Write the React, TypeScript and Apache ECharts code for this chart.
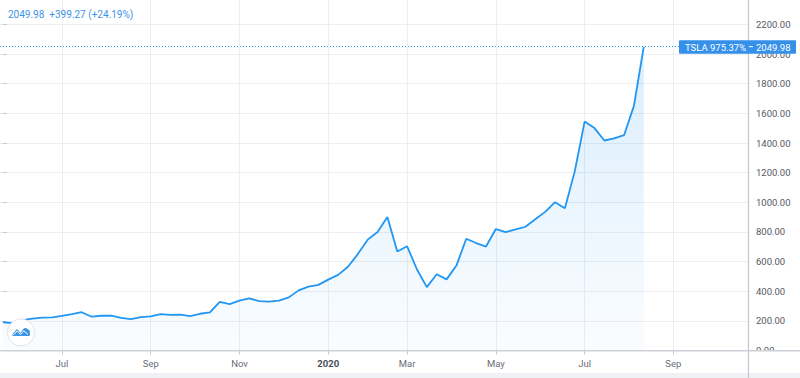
import React, { useEffect, useRef } from 'react';
import * as echarts from 'echarts';

// Weekly closes of TSLA, first bar = week of 2019-05-20
const startWeek = '2019-05-20';
const weeklyClose = [
  190.63, 185.16, 204.5, 214.92, 221.86, 223.46, 233.1, 245.44, 258.18, 228.04,
  234.34, 235.01, 219.94, 211.4, 225.61, 229.58, 245.2, 240.62, 242.13, 231.43,
  247.89, 256.95, 328.13, 313.31, 337.14, 352.17, 333.04, 329.94, 335.89, 358.39,
  405.59, 430.38, 443.01, 478.15, 510.5, 564.82, 650.57, 748.07, 800.03, 901.0,
  667.99, 703.48, 546.62, 427.53, 514.36, 480.01, 573.0, 753.89, 725.15, 701.32,
  819.42, 799.17, 816.88, 835.0, 885.66, 935.28, 1000.9, 959.74, 1208.66, 1544.65,
  1500.64, 1417.0, 1430.76, 1452.71, 1650.71, 2049.98,
];
const tickWeeks = ['2019-07-01', '2019-09-02', '2019-11-04', '2020-01-06', '2020-03-02', '2020-05-04', '2020-07-06', '2020-09-07'];
const tickLabels = ['Jul', 'Sep', 'Nov', '2020', 'Mar', 'May', 'Jul', 'Sep'];
const yTicks = [0, 200, 400, 600, 800, 1000, 1200, 1400, 1600, 1800, 2000, 2200];
const symbol = 'TSLA';

const FONT = 'Roboto, "Noto Sans", sans-serif';
const BLUE = '#2196f3';

const WEEK = 7 * 86400000;
const weekIndex = (d: string) => Math.round((Date.parse(d) - Date.parse(startWeek)) / WEEK);
const tickIdx = tickWeeks.map(weekIndex);
const labelByIdx: Record<number, string> = {};
tickIdx.forEach((v, i) => (labelByIdx[v] = tickLabels[i]));

let registered = false;
function registerLogo() {
  if (registered) return;
  registered = true;
  const d =
    'M0.5 9 C0 9 0 7.5 0.3 6.8 L4.8 1.6 L8.3 5.6 L11.2 1.6 C12.4 0 14.6 0 15.6 1.8 C17.3 2 18 3.4 18 5 L18 7.6 C18 8.5 17.4 9 16.6 9 Z';
  echarts.graphic.registerShape('tvlogo', echarts.graphic.extendPath(d, {}) as any);
}

export default function App() {
  const ref = useRef<HTMLDivElement>(null);
  useEffect(() => {
    document.body.style.margin = '0';
    registerLogo();
    const chart = echarts.init(ref.current!, undefined, { renderer: 'svg' });
    const n = weeklyClose.length;
    const last = weeklyClose[n - 1];
    const prev = weeklyClose[n - 2];
    const first = weeklyClose[0];
    const header = `${last.toFixed(2)}  +${(last - prev).toFixed(2)} (+${((last / prev - 1) * 100).toFixed(2)}%)`;
    const pct = `${symbol} ${((last / first - 1) * 100).toFixed(2)}%`;

    chart.setOption({
      animation: false,
      backgroundColor: '#ffffff',
      grid: { left: 0, right: 52, top: 0, bottom: 27.5 },
      xAxis: {
        type: 'value',
        min: -0.288,
        max: 75.57,
        axisLine: { show: false },
        axisTick: { show: true, length: 4, customValues: tickIdx, lineStyle: { color: '#c5c8ce' } },
        axisLabel: {
          customValues: tickIdx,
          margin: 8,
          color: '#6a6d78',
          fontSize: 9.5,
          fontFamily: FONT,
          formatter: (v: number) => {
            const t = labelByIdx[Math.round(v)] || '';
            return /^\d{4}$/.test(t) ? `{y|${t}}` : t;
          },
          rich: { y: { fontWeight: 'bold', color: '#4a4d57', fontSize: 9.5, fontFamily: FONT } },
        },
        splitLine: { show: true, lineStyle: { color: '#eceef2', width: 1 } },
      },
      yAxis: {
        type: 'value',
        position: 'right',
        min: 0,
        max: 2365,
        interval: 200,
        axisLine: { show: false },
        axisTick: { show: true, length: 4, customValues: yTicks, lineStyle: { color: '#c5c8ce' } },
        axisLabel: {
          customValues: yTicks,
          margin: 8,
          color: '#555863',
          fontSize: 9.5,
          fontFamily: FONT,
          formatter: (v: number) => v.toFixed(2),
        },
        splitLine: { show: true, lineStyle: { color: '#eceef2', width: 1 } },
      },
      series: [
        {
          type: 'line',
          data: weeklyClose.map((v, i) => [i, v]),
          showSymbol: false,
          symbol: 'none',
          lineStyle: { color: BLUE, width: 1.8 },
          areaStyle: {
            color: new echarts.graphic.LinearGradient(0, 0, 0, 1, [
              { offset: 0, color: 'rgba(33,150,243,0.24)' },
              { offset: 1, color: 'rgba(33,150,243,0.03)' },
            ]),
          },
          markLine: {
            silent: true,
            symbol: ['none', 'none'],
            label: { show: false },
            lineStyle: { type: [1, 2], color: BLUE, width: 1 },
            data: [{ yAxis: last }],
          },
        },
      ],
    });

    const py = chart.convertToPixel({ yAxisIndex: 0 }, last) as number;

    chart.setOption({
      graphic: [
        // bottom clipping of price scale & separators
        { type: 'rect', z: 100, shape: { x: 749, y: 351, width: 51, height: 22 }, style: { fill: '#ffffff' } },
        { type: 'rect', z: 100, shape: { x: 0, y: 373, width: 800, height: 5 }, style: { fill: '#f0f1f4' } },
        { type: 'line', z: 101, shape: { x1: 0, y1: 350.75, x2: 800, y2: 350.75 }, style: { stroke: '#cdd0d6', lineWidth: 1.5 } },
        { type: 'line', z: 101, shape: { x1: 748.5, y1: 0, x2: 748.5, y2: 378 }, style: { stroke: '#c5c8ce', lineWidth: 1.2 } },
        // header
        {
          type: 'text', z: 101, x: 8, y: 14.5,
          style: { text: header, fill: '#3d93e8', fontSize: 10, fontFamily: FONT, verticalAlign: 'middle' },
        },
        // price label
        { type: 'rect', z: 102, shape: { x: 679, y: py - 6.5, width: 117, height: 13.5, r: 1 }, style: { fill: '#3590ea' } },
        { type: 'line', z: 103, shape: { x1: 749, y1: py, x2: 753, y2: py }, style: { stroke: '#ffffff', lineWidth: 1 } },
        {
          type: 'text', z: 103, x: 685, y: py + 0.5,
          style: { text: pct, fill: '#ffffff', fontSize: 9.5, fontFamily: FONT, verticalAlign: 'middle' },
        },
        {
          type: 'text', z: 103, x: 756, y: py + 0.5,
          style: { text: last.toFixed(2), fill: '#ffffff', fontSize: 9.5, fontFamily: FONT, verticalAlign: 'middle' },
        },
        // logo
        { type: 'circle', z: 104, shape: { cx: 21, cy: 332.5, r: 13.5 }, style: { fill: '#ffffff', stroke: '#e0e3eb', lineWidth: 1 } },
        { type: 'tvlogo', z: 105, x: 12.3, y: 327.6, scaleX: 0.98, scaleY: 0.93, style: { fill: '#3d95e6' } },
        {
          type: 'polyline', z: 106,
          shape: { points: [[13.2, 335.2], [17.1, 330.9], [20.5, 334.5], [23.6, 330.8], [27.8, 334.2]] },
          style: { stroke: '#ffffff', lineWidth: 1, fill: 'none' },
        },
      ],
    });

    return () => chart.dispose();
  }, []);
  return <div ref={ref} style={{ position: 'absolute', left: 0, top: 0, width: 800, height: 378 }} />;
}
